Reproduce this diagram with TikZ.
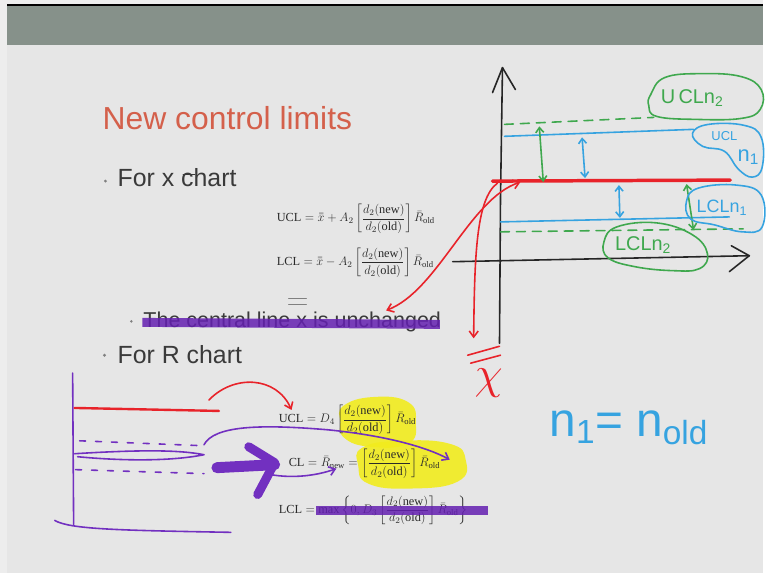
\RequirePackage{fix-cm}
\documentclass[tikz,border=0pt]{standalone}
\usepackage{amsmath}
\usepackage{fontspec}
\setmainfont{Liberation Serif}
\setsansfont{Liberation Sans}
\usetikzlibrary{calc,arrows.meta}

\definecolor{pagebg}{HTML}{EDEDED}
\definecolor{slidebg}{HTML}{E6E6E6}
\definecolor{band}{HTML}{86918A}
\definecolor{titlered}{HTML}{D4604B}
\definecolor{bodytext}{HTML}{3A3A3A}
\definecolor{formtext}{HTML}{2A2A2A}
\definecolor{penred}{HTML}{E8232A}
\definecolor{pengreen}{HTML}{3FA84E}
\definecolor{penblue}{HTML}{36A3E0}
\definecolor{penpurple}{HTML}{7230C0}
\definecolor{marker}{HTML}{6420B0}
\definecolor{hilite}{HTML}{F2EC1E}

% bracketed ratio of the d_2 constants
\newcommand{\dratio}{\left[\dfrac{d_2(\text{new})}{d_2(\text{old})}\right]}
\newcommand{\Rold}{\bar{R}_{\text{old}}}

\begin{document}
\begin{tikzpicture}[x=1pt,y=-1pt,>={Straight Barb[length=6pt,width=9pt]},line cap=round,line join=round]

  % Styles for slide text and pen strokes
  \tikzset{pen/.style={line width=1.6pt}}
  \tikzset{slidetext/.style={anchor=base west, inner sep=0pt, text=bodytext, font=\sffamily\fontsize{25}{28}\selectfont}}
  \tikzset{formula/.style={anchor=west, inner sep=0pt, text=formtext, font=\fontsize{12.4}{14}\selectfont}}
  \tikzset{hand/.style={inner sep=0pt, font=\sffamily\fontsize{20}{24}\selectfont}}
  \tikzset{smallhead/.style={>={Straight Barb[length=5pt,width=8pt]}}}

  % Page, slide and title band
  \fill[pagebg] (0,0) rectangle (767,576);
  \fill[slidebg] (7,4) rectangle (767,576);
  \fill[band] (7,5) rectangle (767,45);
  \fill[black] (7,4) rectangle (767,6.5);

  % Slide text
  \node[slidetext, text=titlered, font=\sffamily\fontsize{32}{36}\selectfont] (title) at (103,130) {New control limits};
  \fill[gray] (106,182) circle (1.6);
  \node[slidetext] (xchart) at (118,187) {For x chart};
  \draw[bodytext, line width=0.9pt] (184,175) -- (196,175);
  \fill[gray] (132,323) circle (1.4);
  \node[slidetext, font=\sffamily\fontsize{21.6}{24}\selectfont] (central) at (144,329) {The central line x is unchanged};
  \draw[gray, line width=1pt] (290,300) -- (308,300);
  \draw[gray, line width=1pt] (290,306) -- (308,306);
  \fill[gray] (105,357) circle (1.6);
  \node[slidetext] (rchart) at (118,365) {For R chart};

  % Yellow highlights behind the R chart ratios
  \fill[hilite, opacity=0.9] plot[smooth cycle, tension=0.8] coordinates {(345,408) (375,399) (410,404) (418,425) (410,446) (372,449) (346,440) (342,424)};
  \fill[hilite, opacity=0.9] plot[smooth cycle, tension=0.8] coordinates {(364,450) (402,443) (452,446) (468,462) (460,484) (412,491) (370,486) (360,468)};

  % Formulas for the x chart
  \node[formula] (ucl_x) at (278,220) {$\mathrm{UCL} = \bar{\bar{x}} + A_2 \dratio \Rold$};
  \node[formula] (lcl_x) at (278,264) {$\mathrm{LCL} = \bar{\bar{x}} - A_2 \dratio \Rold$};

  % Formulas for the R chart
  \node[formula] (ucl_r) at (280,422) {$\mathrm{UCL} = D_4 \dratio \Rold$};
  \node[formula] (cl_r) at (290,466) {$\mathrm{CL} = \bar{R}_{\text{new}} = \dratio \Rold$};
  \node[formula] (lcl_r) at (280,513) {$\mathrm{LCL} = \max\left\{0, D_3 \dratio \Rold\right\}$};

  % Marker strokes over the crossed out lines
  \draw[marker, line width=9pt, opacity=0.85, line cap=butt] (143,324) -- (442,326);
  \draw[marker, line width=9pt, opacity=0.85, line cap=butt] (318,513) -- (490,513);

  % Axes of the x chart sketch
  \draw[black!85, pen] (502,345) -- (503,200) -- (505,68);
  \draw[black!85, pen] (495,93) -- (505,68) -- (518,90);
  \draw[black!85, pen] (455,263) -- (753,257);
  \draw[black!85, pen] (735,247) -- (753,257) -- (733,273);

  % Control limits for n_2 (green) and n_1 (blue)
  \draw[pengreen, pen, dash pattern=on 9pt off 7pt] (507,125) -- (657,118);
  \draw[penblue, pen] (507,137) -- (697,130);
  \draw[penred, line width=3.5pt] (495,182) -- (734,181);
  \draw[penblue, pen] (503,223) -- (733,218);
  \draw[pengreen, pen, dash pattern=on 9pt off 7pt] (503,233) -- (747,230);

  % Distances between the limits and the centre line
  \draw[pengreen, pen, smallhead, <->] (542,127) -- (546,183);
  \draw[penblue, pen, smallhead, <->] (585,138) -- (588,179);
  \draw[penblue, pen, smallhead, <->] (622,186) -- (623,219);
  \draw[pengreen, pen, smallhead, <->] (690,185) -- (697,231);

  % Bubbles round the limit labels
  \draw[pengreen, pen] plot[smooth cycle, tension=0.7] coordinates {(654,95) (668,78) (705,74) (745,77) (765,90) (764,110) (745,119) (700,120) (660,117) (652,106)};
  \node[hand, text=pengreen, anchor=west] (ucln2) at (664,99) {U\,CLn\textsubscript{2}};
  \draw[penblue, pen] plot[smooth cycle, tension=0.7] coordinates {(696,134) (712,125) (748,126) (765,138) (766,168) (756,178) (742,170) (728,152) (706,147)};
  \node[hand, text=penblue, font=\sffamily\fontsize{13}{15}\selectfont] (ucln1) at (728,137) {UCL};
  \node[hand, text=penblue, font=\sffamily\fontsize{22}{24}\selectfont] (n1_u) at (752,158) {n\textsubscript{1}};
  \draw[penblue, pen] plot[smooth cycle, tension=0.7] coordinates {(690,202) (702,189) (740,186) (765,196) (766,228) (746,233) (718,226) (694,220)};
  \node[hand, text=penblue, font=\sffamily\fontsize{18}{20}\selectfont, anchor=west] (lcln1) at (700,209) {LCLn\textsubscript{1}};
  \draw[pengreen, pen] plot[smooth cycle, tension=0.7] coordinates {(607,243) (620,228) (660,224) (696,236) (711,255) (703,270) (676,272) (638,268) (611,259)};
  \node[hand, text=pengreen, anchor=west] (lcln2) at (618,246) {LCLn\textsubscript{2}};

  % Red arrows from the centre line
  \coordinate (cl_x) at (523,183);
  \coordinate (cl_note) at (388,312);
  \coordinate (cl_down) at (476,340);
  \draw[penred, pen, <->] (cl_note) .. controls (440,292) and (472,200) .. (cl_x);
  \draw[penred, pen, ->] (500,184) .. controls (478,200) and (477,260) .. (cl_down);
  % double bar over the grand mean
  \draw[penred, pen] (470,357) -- (502,348);
  \draw[penred, pen] (473,365) -- (503,357);
  \node[text=penred, inner sep=0pt, font=\fontsize{46}{46}\selectfont] (xbar_r) at (491,385) {$\chi$};

  % Note on the sample size
  \node[hand, text=penblue, font=\sffamily\fontsize{48}{50}\selectfont, anchor=west] (n_old) at (552,430) {n\textsubscript{1}= n\textsubscript{old}};

  % R chart sketch
  \draw[penpurple, pen] (73,375) -- (74,527);
  \draw[penpurple, pen] (55,523) .. controls (70,532) and (120,533) .. (232,535);
  \draw[penred, line width=2.4pt] (75,410) -- (220,413);
  \draw[penpurple, pen, dash pattern=on 6pt off 10pt] (80,443) -- (205,448);
  \draw[penpurple, pen] (75,456) .. controls (140,452) and (180,452) .. (205,457) .. controls (170,464) and (120,463) .. (78,459);
  \draw[penpurple, pen, dash pattern=on 6pt off 10pt] (76,472) -- (205,476);

  % Arrows into the R chart formulas
  \draw[penred, pen, ->] (210,402) .. controls (235,376) and (278,378) .. (293,412);
  \draw[penpurple, pen, ->] (205,447) .. controls (215,428) and (260,426) .. (330,432) .. controls (390,438) and (430,450) .. (452,462);
  \draw[penpurple, line width=11pt] (218,470) -- (276,467);
  \draw[penpurple, line width=9pt] (250,449) -- (276,465) -- (259,497);
  \draw[penpurple, pen, ->] (272,477) .. controls (295,481) and (318,478) .. (338,471);

\end{tikzpicture}
\end{document}
